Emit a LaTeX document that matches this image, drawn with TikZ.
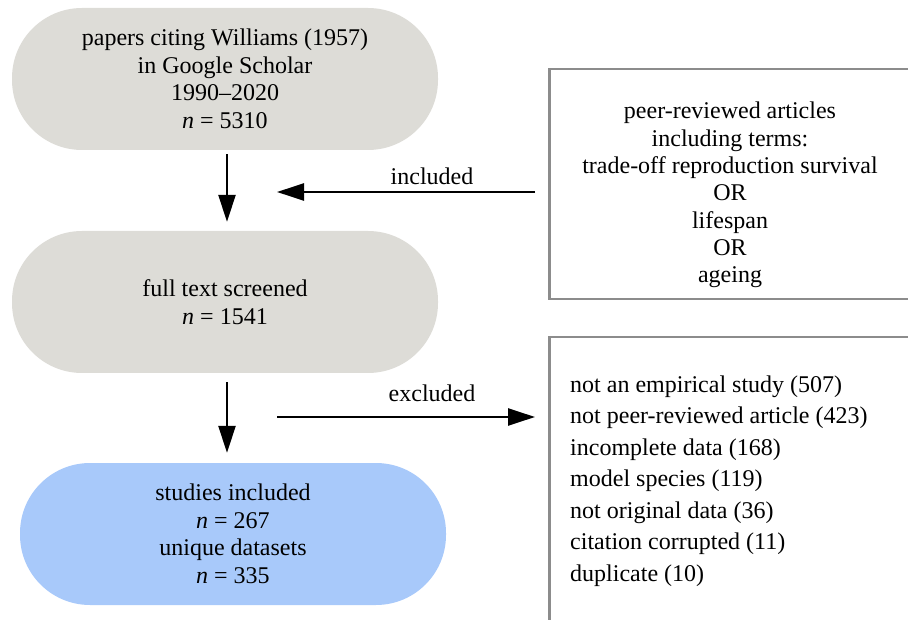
\documentclass[tikz,border=0pt]{standalone}
\usepackage{fontspec}
\setmainfont{Liberation Serif}
\usetikzlibrary{arrows.meta}
\definecolor{pillgray}{RGB}{221,220,215}
\definecolor{pillblue}{RGB}{168,201,250}
\definecolor{boxgray}{RGB}{140,140,140}
\tikzset{
  pill/.style={fill=pillgray, rounded corners=70pt, minimum width=426pt, minimum height=142pt, inner sep=0pt, align=center, font=\fontsize{24}{27.5}\selectfont},
  sidebox/.style={draw=boxgray, line width=2.5pt, inner sep=0pt},
  flow/.style={line width=2.6pt, -{Triangle[length=27pt,width=17pt]}},
  lbl/.style={font=\fontsize{24}{27}\selectfont, inner sep=0pt}
}
\begin{document}
\begin{tikzpicture}[x=1pt,y=-1pt]
\useasboundingbox (0,0) rectangle (908,620);
\node[pill] (top) at (225,79) {papers citing Williams (1957)\\in Google Scholar\\1990--2020\\\textit{n} = 5310};
\node[pill] (mid) at (225,302) {full text screened\\\textit{n} = 1541};
\node[pill, fill=pillblue] (fin) at (233,534) {studies included\\\textit{n} = 267\\unique datasets\\\textit{n} = 335};
\node[sidebox, minimum width=420pt, minimum height=230pt, anchor=north west] (rb1) at (548,68) {};
\node[sidebox, minimum width=420pt, minimum height=340pt, anchor=north west] (rb2) at (548,336) {};
\node[align=center, inner sep=0pt, font=\fontsize{24}{27.3}\selectfont] (t1) at (730,195) {peer-reviewed articles\\including terms:\\trade-off reproduction survival\\OR\\lifespan\\OR\\ageing};
\node[align=left, anchor=west, inner sep=0pt, font=\fontsize{24}{31.5}\selectfont] (t2) at (570,481) {not an empirical study (507)\\not peer-reviewed article (423)\\incomplete data (168)\\model species (119)\\not original data (36)\\citation corrupted (11)\\duplicate (10)};
\coordinate (inc) at (277,192);
\coordinate (exc) at (277,417);
\draw[flow] ([xshift=2pt]top.south) ++(0,4) -- ([xshift=2pt,yshift=9pt]mid.north);
\draw[flow] ([xshift=2pt]mid.south) ++(0,9) -- ([xshift=-6pt,yshift=10pt]fin.north);
\draw[flow, shorten <=13pt] (rb1.west |- inc) -- (inc);
\draw[flow, shorten >=13pt] (exc) -- (rb2.west |- exc);
\node[lbl] (li) at (432,176) {included};
\node[lbl] (le) at (432,393) {excluded};
\end{tikzpicture}
\end{document}
